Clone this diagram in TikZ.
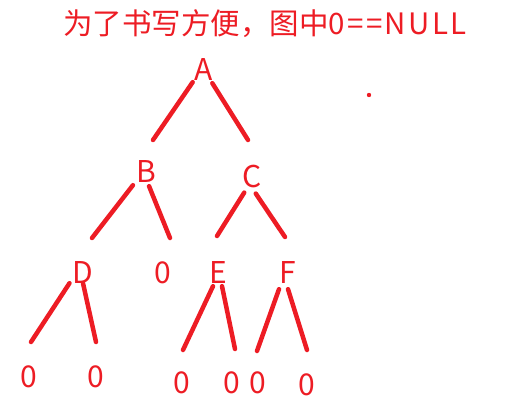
\documentclass[tikz,border=0pt]{standalone}
\usepackage{fontspec}
\newfontfamily\cjk{Noto Sans CJK SC}
\definecolor{paintred}{RGB}{237,28,36}
\tikzset{
	every node/.style={text=paintred, inner sep=0pt, font=\cjk\fontsize{30}{30}\selectfont}, % red letters as in the sketch
	stroke/.style={draw=paintred, line width=4.5pt, line cap=round}, % the hand drawn branches
	title/.style={font=\cjk\fontsize{29.5}{29.5}\selectfont},
}

\begin{document}
\begin{tikzpicture}[x=1pt,y=-1pt]
	\useasboundingbox (0,0) rectangle (528,401);
	\node[title] (T) at (265,24) {为了书写方便，图中{\addfontfeature{LetterSpace=8}0==NULL}};
	% tree nodes
	\node (A) at (204,70) {A};
	\node (B) at (146,172) {B};
	\node (C) at (252,177) {C};
	\node (D) at (83,273) {D};
	\node (nb) at (163,273) {0};
	\node (E) at (218,273) {E};
	\node (F) at (288,273) {F};
	\node (nd1) at (29,377) {0};
	\node (nd2) at (96,377) {0};
	\node (ne1) at (182,383) {0};
	\node (ne2) at (232,383) {0};
	\node (nf1) at (258,383) {0};
	\node (nf2) at (307,385) {0};
	% free ends of the branches
	\coordinate (al) at (153,140);
	\coordinate (ar) at (248,140);
	\coordinate (bl) at (92,238);
	\coordinate (br) at (170,238);
	\coordinate (cl) at (217,236);
	\coordinate (cr) at (285,237);
	\coordinate (dl) at (31,342);
	\coordinate (dr) at (96,342);
	\coordinate (el) at (183,350);
	\coordinate (er) at (235,349);
	\coordinate (fl) at (257,351);
	\coordinate (fr) at (307,350);
	\draw[stroke] ([shift={(-2,1)}]A.south west) -- (al);
	\draw[stroke] ([shift={(-1,2)}]A.south east) -- (ar);
	\draw[stroke] ([shift={(-3,2)}]B.south west) -- (bl);
	\draw[stroke] ([shift={(-7,3)}]B.south east) -- (br);
	\draw[stroke] ([shift={(2,4)}]C.south west) -- (cl);
	\draw[stroke] ([shift={(-6,5)}]C.south east) -- (cr);
	\draw[stroke] ([shift={(-3,-1)}]D.south west) -- (dl);
	\draw[stroke] ([shift={(0,-1)}]D.south) -- (dr);
	\draw[stroke] ([shift={(-5,2)}]E.south) -- (el);
	\draw[stroke] ([shift={(4,2)}]E.south) -- (er);
	\draw[stroke] ([shift={(-9,5)}]F.south) -- (fl);
	\draw[stroke] ([shift={(0,5)}]F.south) -- (fr);
	\fill[paintred] (369,95) circle (2.2);
\end{tikzpicture}
\end{document}
